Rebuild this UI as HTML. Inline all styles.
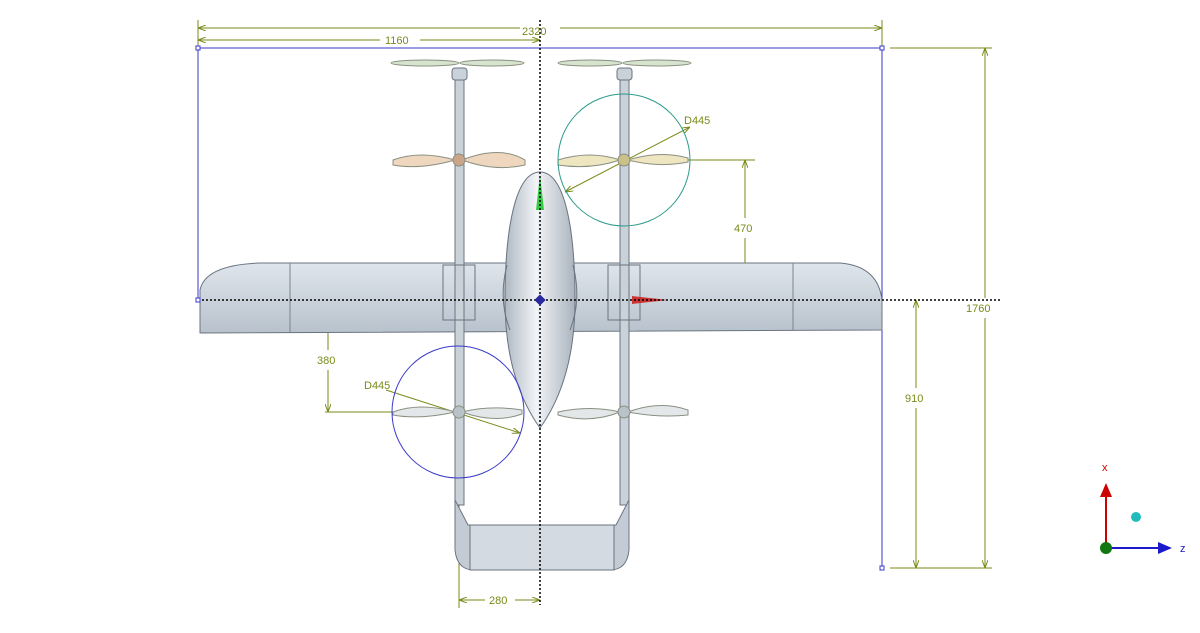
<!DOCTYPE html>
<html><head><style>body{margin:0;background:#fff}svg{display:block}text{font-family:"Liberation Sans",sans-serif;font-size:11px;fill:#7a8a1a}</style></head><body>
<svg width="1200" height="633" viewBox="0 0 1200 633">
<defs>
<linearGradient id="w" x1="0" y1="0" x2="0" y2="1"><stop offset="0" stop-color="#dfe5ec"/><stop offset="1" stop-color="#b8c2cc"/></linearGradient>
<linearGradient id="f" x1="0" y1="0" x2="1" y2="0"><stop offset="0" stop-color="#aeb8c2"/><stop offset=".45" stop-color="#f2f4f7"/><stop offset="1" stop-color="#a9b3bd"/></linearGradient>
<marker id="a" markerWidth="8" markerHeight="6" refX="8" refY="3" orient="auto-start-reverse"><path d="M0,0L8,3L0,6" fill="none" stroke="#7a8a1a"/></marker>
</defs>
<g stroke="#7a8a1a" stroke-width="1" fill="none">
<line x1="198" y1="20" x2="198" y2="48"/><line x1="882" y1="20" x2="882" y2="48"/>
<line x1="198" y1="28" x2="520" y2="28" marker-start="url(#a)"/><line x1="560" y1="28" x2="882" y2="28" marker-end="url(#a)"/>
<line x1="198" y1="40" x2="380" y2="40" marker-start="url(#a)"/><line x1="420" y1="40" x2="540" y2="40" marker-end="url(#a)"/>
<line x1="890" y1="48" x2="992" y2="48"/><line x1="890" y1="568" x2="992" y2="568"/>
<line x1="985" y1="48" x2="985" y2="298" marker-start="url(#a)"/><line x1="985" y1="318" x2="985" y2="568" marker-end="url(#a)"/>
<line x1="916" y1="300" x2="916" y2="388" marker-start="url(#a)"/><line x1="916" y1="408" x2="916" y2="568" marker-end="url(#a)"/>
<line x1="624" y1="160" x2="755" y2="160"/>
<line x1="745" y1="160" x2="745" y2="218" marker-start="url(#a)"/><line x1="745" y1="238" x2="745" y2="300" marker-end="url(#a)"/>
<line x1="325" y1="412" x2="458" y2="412"/>
<line x1="328" y1="300" x2="328" y2="350" marker-start="url(#a)"/><line x1="328" y1="370" x2="328" y2="412" marker-end="url(#a)"/>
<line x1="459" y1="412" x2="459" y2="608"/>
<line x1="459" y1="600" x2="485" y2="600" marker-start="url(#a)"/><line x1="515" y1="600" x2="540" y2="600" marker-end="url(#a)"/>
<line x1="565" y1="192" x2="690" y2="127" marker-start="url(#a)" marker-end="url(#a)"/>
<line x1="386" y1="390" x2="520" y2="433" marker-end="url(#a)"/>
</g>
<g stroke="#3a3acc" fill="none"><polyline points="198,300 198,48 882,48 882,568"/></g>
<!-- wing -->
<path d="M200,333 L200,290 Q205,265 260,263 L840,263 Q878,266 882,300 L882,330 L200,333 Z" fill="url(#w)" stroke="#6a7480"/>
<g stroke="#7a8490" fill="none"><line x1="290" y1="263" x2="290" y2="332"/><line x1="793" y1="263" x2="793" y2="330"/></g>
<!-- booms -->
<g fill="#c9d1d9" stroke="#6a7480"><rect x="455" y="75" width="9" height="430"/><rect x="620" y="75" width="9" height="430"/>
<rect x="452" y="68" width="15" height="12" rx="3"/><rect x="617" y="68" width="15" height="12" rx="3"/>
<rect x="443" y="265" width="32" height="55" fill="none"/><rect x="608" y="265" width="32" height="55" fill="none"/>
<path d="M455,500 L468,525 L616,525 L629,500 L629,550 Q627,570 610,570 L474,570 Q457,570 455,550 Z" fill="#c3ccd5"/>
<rect x="470" y="525" width="144" height="45" fill="#d3dae1"/></g>
<!-- props -->
<g stroke="#8a9080">
<ellipse cx="425" cy="63" rx="34" ry="3" fill="#d6e4cf"/><ellipse cx="492" cy="63" rx="32" ry="3" fill="#d6e4cf"/>
<ellipse cx="590" cy="63" rx="32" ry="3" fill="#d6e4cf"/><ellipse cx="657" cy="63" rx="34" ry="3" fill="#d6e4cf"/>
<path d="M393,160 Q420,150 455,160 Q420,170 393,165Z" fill="#eed6bf"/><path d="M462,160 Q500,145 525,160 L525,165 Q495,172 462,160Z" fill="#eed6bf"/>
<path d="M558,160 Q590,150 620,160 Q590,170 558,165Z" fill="#eee5c1"/><path d="M628,160 Q660,168 688,162 L688,158 Q660,150 628,160Z" fill="#eee5c1"/>
<path d="M393,412 Q420,402 455,412 Q420,420 393,415Z" fill="#e4e7ea"/><path d="M462,412 Q490,405 522,410 L522,414 Q495,424 462,412Z" fill="#e4e7ea"/>
<path d="M558,412 Q590,405 620,412 Q590,424 558,415Z" fill="#e4e7ea"/><path d="M628,412 Q660,400 688,410 L688,415 Q660,418 628,412Z" fill="#e4e7ea"/>
<circle cx="459" cy="160" r="6" fill="#c9a58a"/><circle cx="624" cy="160" r="6" fill="#c9c08a"/>
<circle cx="459" cy="412" r="6" fill="#b9c1c9"/><circle cx="624" cy="412" r="6" fill="#b9c1c9"/>
</g>
<!-- fuselage -->
<path d="M540,172 C565,172 575,230 575,300 C575,360 560,400 540,428 C520,400 505,360 505,300 C505,230 515,172 540,172Z" fill="url(#f)" stroke="#6a7480"/>
<path d="M507,265 Q498,300 510,330" stroke="#6a7480" fill="none"/><path d="M573,265 Q582,300 570,330" stroke="#6a7480" fill="none"/>
<polygon points="536,210 540,175 544,210" fill="#33cc44"/>
<polygon points="632,296 668,300 632,304" fill="#cc3333"/>
<g stroke="#000" stroke-dasharray="2,2" stroke-width="1.5"><line x1="540" y1="20" x2="540" y2="605"/><line x1="198" y1="300" x2="1000" y2="300"/></g>
<rect x="536" y="296" width="8" height="8" fill="#2a2aa0" transform="rotate(45 540 300)"/>
<circle cx="624" cy="160" r="66" fill="none" stroke="#2a9a8a"/>
<circle cx="458" cy="412" r="66" fill="none" stroke="#3a3acc"/>
<g fill="#fff" stroke="#3a3acc"><rect x="196" y="46" width="4" height="4"/><rect x="880" y="46" width="4" height="4"/><rect x="880" y="566" width="4" height="4"/><rect x="196" y="298" width="4" height="4"/></g>
<text x="522" y="35">2320</text><text x="385" y="44">1160</text>
<text x="966" y="312">1760</text><text x="905" y="402">910</text>
<text x="734" y="232">470</text><text x="317" y="364">380</text>
<text x="489" y="604">280</text><text x="684" y="124">D445</text><text x="364" y="389">D445</text>
<!-- triad -->
<line x1="1106" y1="548" x2="1106" y2="495" stroke="#cc0000" stroke-width="2"/><polygon points="1100,497 1106,483 1112,497" fill="#cc0000"/>
<line x1="1106" y1="548" x2="1160" y2="548" stroke="#1a1acc" stroke-width="2"/><polygon points="1158,542 1172,548 1158,554" fill="#1a1acc"/>
<circle cx="1106" cy="548" r="6" fill="#117711"/><circle cx="1136" cy="517" r="5" fill="#22bbbb"/>
<text x="1102" y="471" style="fill:#cc0000">x</text><text x="1180" y="552" style="fill:#1a1acc">z</text>
</svg></body></html>
